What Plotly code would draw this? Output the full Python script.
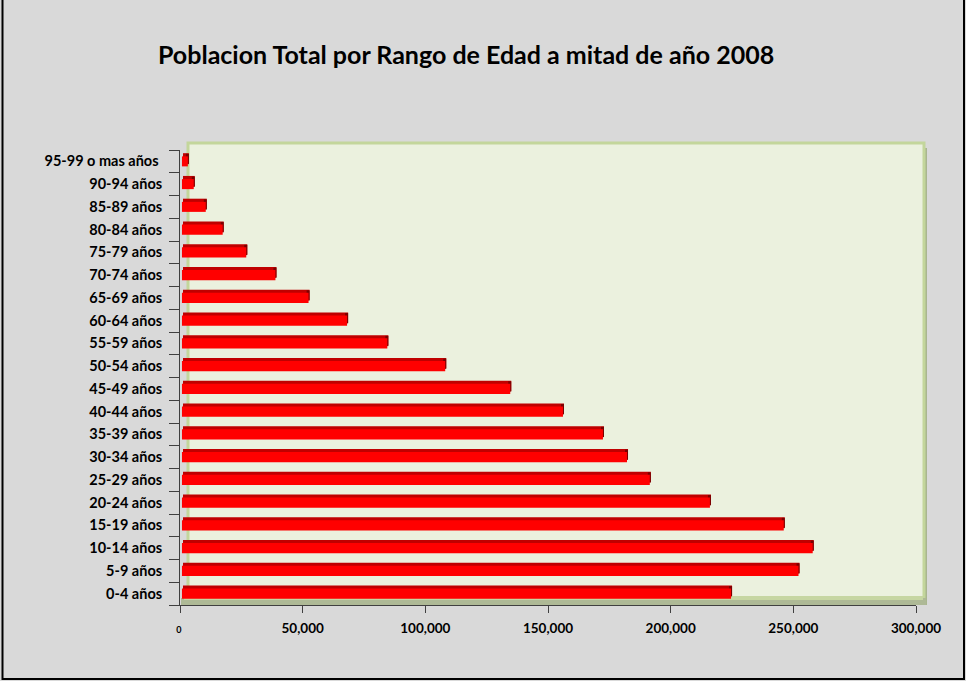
import plotly.graph_objects as go

categories = ["0-4 años", "5-9 años", "10-14 años", "15-19 años", "20-24 años",
              "25-29 años", "30-34 años", "35-39 años", "40-44 años", "45-49 años",
              "50-54 años", "55-59 años", "60-64 años", "65-69 años", "70-74 años",
              "75-79 años", "80-84 años", "85-89 años", "90-94 años", "95-99 o mas años "]
population = [223800, 251300, 257100, 245300, 215200,
              190700, 181400, 171600, 155300, 133800,
              107300, 83700, 67300, 51600, 38100,
              26200, 16600, 9700, 4800, 2400]
x_tick_vals = [0, 50000, 100000, 150000, 200000, 250000, 300000]
x_tick_text = ['<span style="font-size:9px">0 </span>', "50,000", "100,000", "150,000",
               "200,000", "250,000", "300,000"]
title_text = "Poblacion Total por Rango de Edad a mitad de año 2008"

W, H = 966, 681
L, R, T, B = 180, 916, 150, 605
XMAX = 300000
px_per_unit = (R - L) / XMAX
depth_units = 3 / px_per_unit

def dx(px):
    return (px - L) / (R - L)

def dy(py):
    return (B - py) / (B - T)

fig = go.Figure()
# top/back face of bars
fig.add_trace(go.Bar(y=categories, x=population, base=[depth_units] * len(population),
                     orientation="h", width=0.45, offset=-0.09,
                     marker=dict(color="#C00000", line=dict(width=0)), hoverinfo="skip"))
# right end face
fig.add_trace(go.Bar(y=categories, x=[depth_units] * len(population), base=population,
                     orientation="h", width=0.45, offset=-0.12,
                     marker=dict(color="#7A0000", line=dict(width=0)), hoverinfo="skip"))
# front face
fig.add_trace(go.Bar(y=categories, x=population, base=[800] * len(population),
                     orientation="h", width=0.44, offset=-0.22,
                     marker=dict(color="#FF0000", line=dict(width=0)),
                     hovertemplate="%{y}: %{x:,}<extra></extra>"))

shapes = [
    # outer border
    dict(type="rect", xref="x domain", yref="y domain", x0=dx(2.5), x1=dx(964), y0=dy(679), y1=dy(-5),
         line=dict(color="black", width=2), fillcolor="rgba(0,0,0,0)", layer="below"),
    # side wall strip (right)
    dict(type="rect", xref="x domain", yref="y domain", x0=dx(921), x1=dx(927), y0=dy(605), y1=dy(148),
         line=dict(width=0), fillcolor="#A9B68F", layer="below"),
    # back wall
    dict(type="rect", xref="x domain", yref="y domain", x0=dx(188), x1=dx(924), y0=dy(598), y1=dy(143),
         line=dict(color="#C3D69B", width=3), fillcolor="#EBF1DE", layer="below"),
    # floor
    dict(type="rect", xref="x domain", yref="y domain", x0=dx(181), x1=dx(926), y0=dy(605), y1=dy(598),
         line=dict(width=0), fillcolor="#AEB996", layer="below"),
    dict(type="rect", xref="x domain", yref="y domain", x0=dx(184), x1=dx(923), y0=dy(600), y1=dy(596),
         line=dict(width=0), fillcolor="#C6D6A2", layer="below"),
]

fig.update_layout(
    width=W, height=H,
    margin=dict(l=L, r=W - R, t=T, b=H - B, pad=0),
    paper_bgcolor="#D9D9D9", plot_bgcolor="rgba(0,0,0,0)",
    barmode="overlay", showlegend=False,
    title=dict(text="<b>" + title_text + "</b>", x=0.4825, xanchor="center", y=1 - 55 / H, yanchor="middle",
               font=dict(family="Lato", size=25, color="black")),
    font=dict(family="Lato", color="black"),
    shapes=shapes,
    xaxis=dict(range=[0, XMAX], tickvals=x_tick_vals, ticktext=x_tick_text,
               showgrid=False, zeroline=False, showline=True, linecolor="#404040", linewidth=1,
               ticks="outside", ticklen=7, tickcolor="#404040", tickwidth=1, ticklabelstandoff=4,
               tickfont=dict(family="Lato", size=13.5, color="black", weight="bold"), fixedrange=True),
    yaxis=dict(categoryorder="array", categoryarray=categories, range=[-0.5, len(categories) - 0.5],
               showgrid=False, zeroline=False, showline=True, linecolor="#404040", linewidth=1,
               ticks="outside", ticklen=10, tickcolor="#404040", tickwidth=1, tickson="boundaries",
               ticklabelstandoff=14,
               tickfont=dict(family="Lato", size=14.5, color="black", weight="bold"), fixedrange=True),
)

fig.write_html("out.html")
